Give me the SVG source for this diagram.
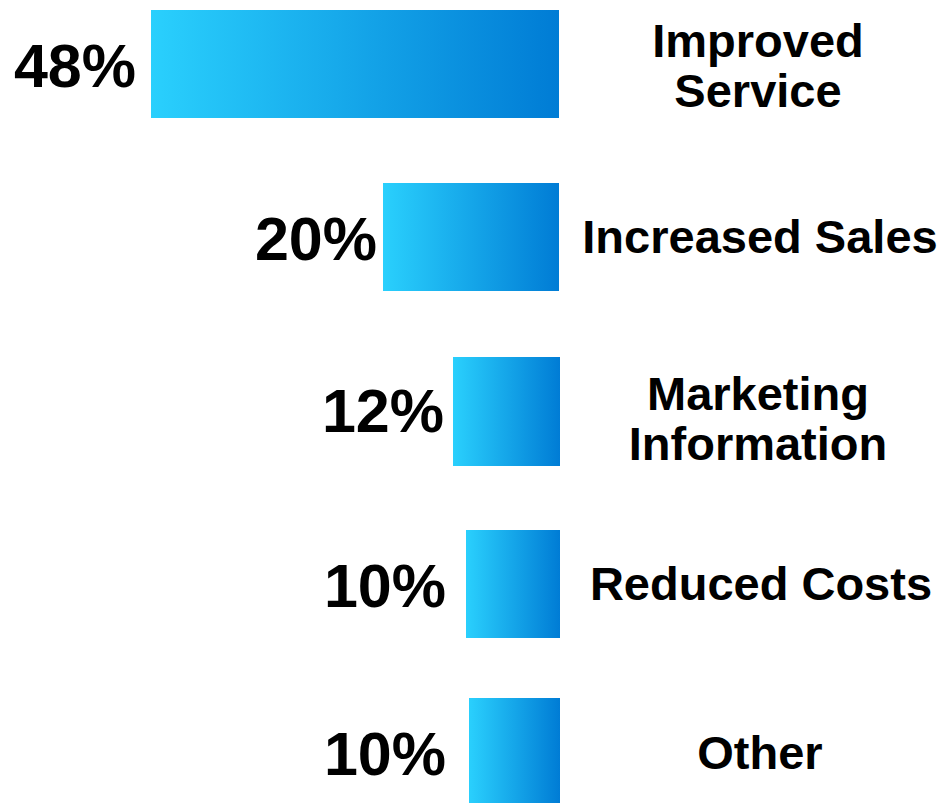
<svg xmlns="http://www.w3.org/2000/svg" width="941" height="803" viewBox="0 0 941 803">
<defs>
<linearGradient id="g" x1="0" y1="0" x2="1" y2="0">
<stop offset="0" stop-color="#2AD0FD"/>
<stop offset="1" stop-color="#007CD5"/>
</linearGradient>
<style>
.bar{fill:url(#g)}
.pct{font-family:"Liberation Sans",Arial,sans-serif;font-weight:bold;font-size:61px;fill:#000;text-anchor:end}
.lbl{font-family:"Liberation Sans",Arial,sans-serif;font-weight:bold;font-size:47px;fill:#000;text-anchor:middle}
</style>
</defs>
<rect width="941" height="803" fill="#fff"/>
<g id="row1">
<rect class="bar" x="151" y="10" width="408" height="108"/>
<text class="pct" x="136" y="87">48%</text>
<text class="lbl" x="758" y="57">Improved</text>
<text class="lbl" x="758" y="107">Service</text>
</g>
<g id="row2">
<rect class="bar" x="383" y="183" width="176" height="108"/>
<text class="pct" x="377" y="260">20%</text>
<text class="lbl" x="760" y="253">Increased Sales</text>
</g>
<g id="row3">
<rect class="bar" x="453" y="357" width="107" height="109"/>
<text class="pct" x="444" y="432">12%</text>
<text class="lbl" x="758" y="410">Marketing</text>
<text class="lbl" x="758" y="460">Information</text>
</g>
<g id="row4">
<rect class="bar" x="466" y="530" width="94" height="108"/>
<text class="pct" x="446" y="607">10%</text>
<text class="lbl" x="761" y="600">Reduced Costs</text>
</g>
<g id="row5">
<rect class="bar" x="469" y="698" width="91" height="105"/>
<text class="pct" x="446" y="775">10%</text>
<text class="lbl" x="760" y="769">Other</text>
</g>
</svg>
